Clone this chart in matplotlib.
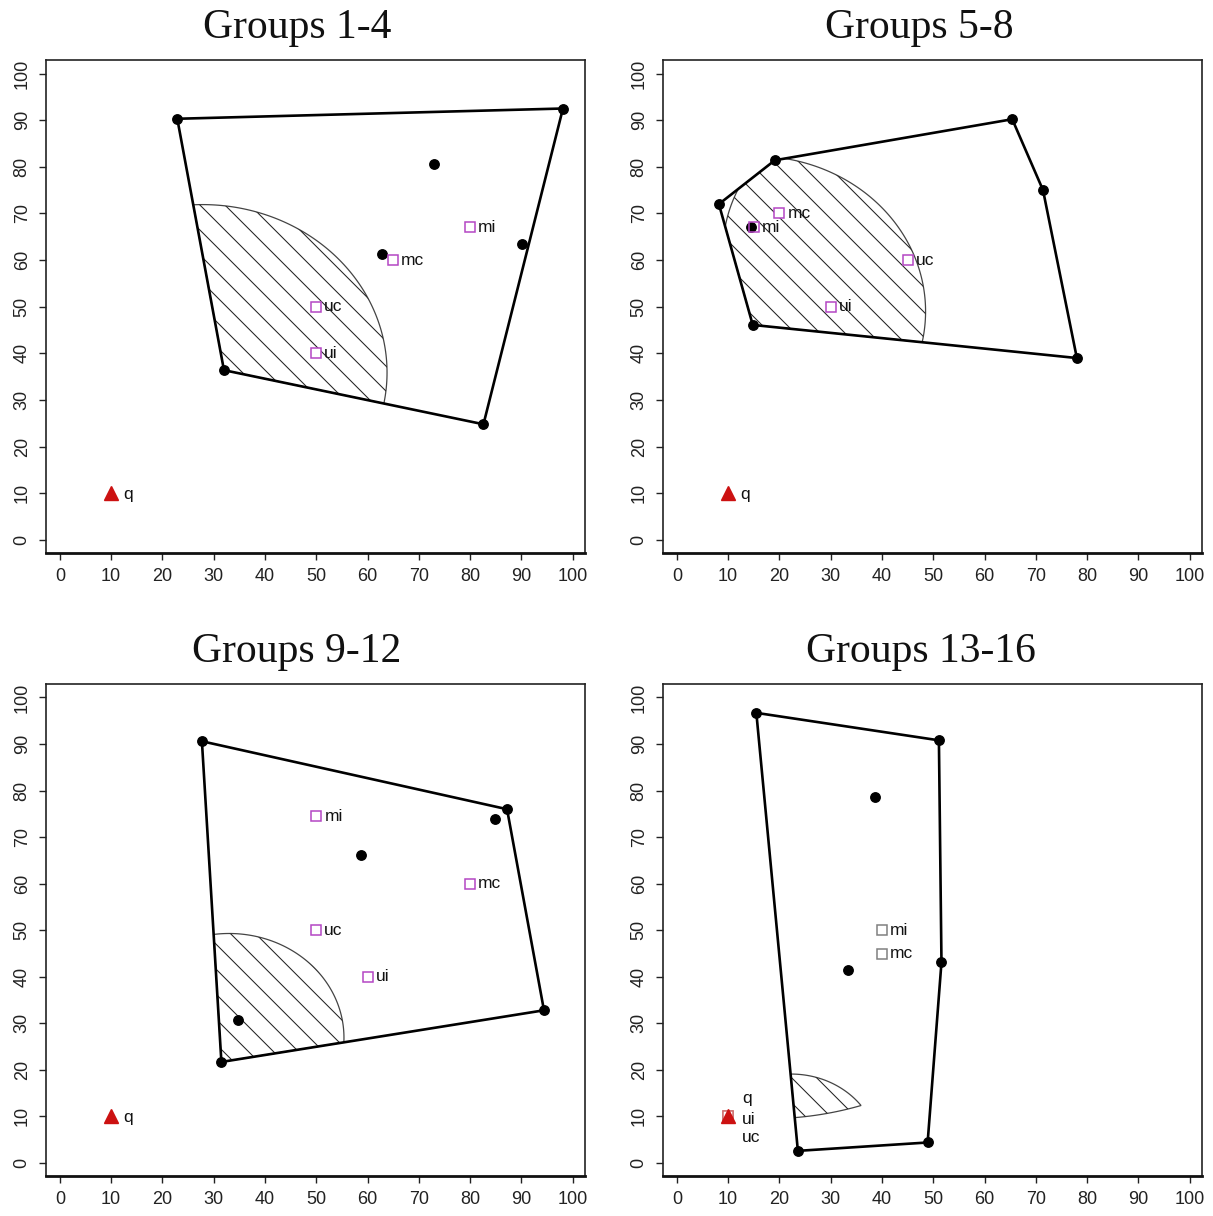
import numpy as np
import matplotlib
matplotlib.use("Agg")
import matplotlib.pyplot as plt
from matplotlib.collections import LineCollection
from matplotlib.patches import Polygon as MplPolygon

# ---------------- data ----------------
titles = ["Groups 1-4", "Groups 5-8", "Groups 9-12", "Groups 13-16"]
ticks = list(range(0, 101, 10))

q_x = [10, 10, 10, 10]
q_y = [10, 10, 10, 10]

hull1_x = [22.9, 98.1, 82.6, 32.0]
hull1_y = [90.3, 92.5, 24.8, 36.4]
inner1_x = [72.9, 62.9, 90.1]
inner1_y = [80.7, 61.2, 63.4]
sq1_lab = ["mi", "mc", "uc", "ui"]
sq1_x = [80, 65, 50, 50]
sq1_y = [67, 60, 50, 40]

hull2_x = [8.2, 19.1, 65.4, 71.4, 78.0, 14.8]
hull2_y = [72.0, 81.4, 90.2, 75.0, 39.0, 46.1]
inner2_x = [14.5]
inner2_y = [67.0]
sq2_lab = ["mc", "mi", "uc", "ui"]
sq2_x = [20, 15, 45, 30]
sq2_y = [70, 67, 60, 50]

hull3_x = [27.7, 87.2, 94.4, 31.5]
hull3_y = [90.6, 76.0, 32.8, 21.7]
inner3_x = [84.8, 58.8, 34.7]
inner3_y = [73.8, 66.1, 30.7]
sq3_lab = ["mi", "mc", "uc", "ui"]
sq3_x = [50, 80, 50, 60]
sq3_y = [74.5, 60, 50, 40]

hull4_x = [15.5, 51.1, 51.6, 48.9, 23.6]
hull4_y = [96.7, 90.8, 43.1, 4.4, 2.6]
inner4_x = [38.6, 33.3]
inner4_y = [78.6, 41.5]
sq4_lab = ["mi", "mc", "ui", "uc"]
sq4_x = [40, 40, 10, 10]
sq4_y = [50, 45, 10, 10]

# hatched region: disc (cx, cy, r) intersected with hull and optional 2nd disc
disc1 = [(27.8, 35.9, 36.0), (15.2, 49.0, 33.3), (33.0, 26.9, 22.4), (22.3, 2.0, 17.1)]
disc2 = [None, (40.0, 62.0, 31.0), None, (17.6, 69.9, 60.4)]

hulls = [(hull1_x, hull1_y), (hull2_x, hull2_y), (hull3_x, hull3_y), (hull4_x, hull4_y)]
inners = [(inner1_x, inner1_y), (inner2_x, inner2_y), (inner3_x, inner3_y), (inner4_x, inner4_y)]
squares = [(sq1_lab, sq1_x, sq1_y), (sq2_lab, sq2_x, sq2_y),
           (sq3_lab, sq3_x, sq3_y), (sq4_lab, sq4_x, sq4_y)]

# ---------------- style ----------------
W, H = 1213, 1216
fig = plt.figure(figsize=(W / 100, H / 100), dpi=100)
rects_px = [(46, 60, 539, 493), (663, 60, 539, 493),
            (46, 684, 539, 492), (663, 684, 539, 492)]
title_pos = [(297, 38), (919, 38), (297, 662), (921, 662)]
XLIM = (-2.7, 102.4)
YLIM = (-2.8, 102.9)
MAGENTA = "#B446C4"
GRAY = "#808080"
RED = "#CC1111"
label_font = "Liberation Sans"


def orient_ccw(pts):
    pts = list(pts)
    a = 0
    for i in range(len(pts)):
        x1, y1 = pts[i]
        x2, y2 = pts[(i + 1) % len(pts)]
        a += x1 * y2 - x2 * y1
    return pts if a > 0 else pts[::-1]


def clip_poly(subject, clipper):
    clipper = orient_ccw(clipper)
    out = list(subject)
    n = len(clipper)
    for i in range(n):
        a = clipper[i]
        b = clipper[(i + 1) % n]
        inp = out
        out = []
        if not inp:
            break

        def inside(p):
            return (b[0] - a[0]) * (p[1] - a[1]) - (b[1] - a[1]) * (p[0] - a[0]) >= 0

        def inter(p, q):
            dx1, dy1 = q[0] - p[0], q[1] - p[1]
            dx2, dy2 = b[0] - a[0], b[1] - a[1]
            den = dx1 * dy2 - dy1 * dx2
            t = ((a[0] - p[0]) * dy2 - (a[1] - p[1]) * dx2) / den
            return (p[0] + t * dx1, p[1] + t * dy1)

        s = inp[-1]
        for e in inp:
            if inside(e):
                if not inside(s):
                    out.append(inter(s, e))
                out.append(e)
            elif inside(s):
                out.append(inter(s, e))
            s = e
    return out


def disc_poly(c, n=360):
    t = np.linspace(0, 2 * np.pi, n, endpoint=False)
    return [(c[0] + c[2] * np.cos(a), c[1] + c[2] * np.sin(a)) for a in t]


for k in range(4):
    l, t, w, h = rects_px[k]
    ax = fig.add_axes([l / W, (H - t - h) / H, w / W, h / H])
    ax.set_xlim(*XLIM)
    ax.set_ylim(*YLIM)
    sx = w / (XLIM[1] - XLIM[0])
    sy = h / (YLIM[1] - YLIM[0])

    hx, hy = hulls[k]
    hull_pts = list(zip(hx, hy))

    # hatched region
    region = clip_poly(disc_poly(disc1[k]), hull_pts)
    if disc2[k] is not None:
        region = clip_poly(region, disc_poly(disc2[k]))
    patch = MplPolygon(region, closed=True, facecolor="none",
                       edgecolor="#444444", linewidth=0.9, zorder=2)
    ax.add_patch(patch)
    step = 25.0
    cs = np.arange(-200, sx * 110 + sy * 110 + 200, step)
    segs = []
    for c in cs:
        xa, xb = -10, 115
        segs.append([(xa, (c - sx * xa) / sy), (xb, (c - sx * xb) / sy)])
    lc = LineCollection(segs, colors="#222222", linewidths=0.75, zorder=2)
    ax.add_collection(lc)
    lc.set_clip_path(patch)

    # hull
    ax.plot(list(hx) + [hx[0]], list(hy) + [hy[0]], color="black", lw=1.9,
            solid_joinstyle="round", zorder=3)
    ix, iy = inners[k]
    ax.plot(hx, hy, "o", color="black", ms=6.8, zorder=4)
    ax.plot(ix, iy, "o", color="black", ms=6.8, zorder=4)

    # squares and labels
    labs, sxs, sys_ = squares[k]
    for lab, x, y in zip(labs, sxs, sys_):
        if k == 3:
            col = GRAY if lab in ("mi", "mc") else "#D07070"
        else:
            col = MAGENTA
        ax.plot([x], [y], "s", ms=7.6, mfc="white" if k != 1 or lab != "mi" else "none",
                mec=col, mew=1.1, zorder=5)
        if k == 3 and lab in ("ui", "uc"):
            off = (10, -2) if lab == "ui" else (10, -15)
        else:
            off = (5.8, 0)
        ax.annotate(lab, (x, y), xytext=off, textcoords="offset points",
                    ha="left", va="center", fontsize=12.5, family=label_font,
                    color="#111111", zorder=6)

    # q
    ax.plot([q_x[k]], [q_y[k]], "^", ms=10, color=RED, zorder=7)
    qoff = (10, 13) if k == 3 else (8.5, -1)
    ax.annotate("q", (q_x[k], q_y[k]), xytext=qoff, textcoords="offset points",
                ha="left", va="center", fontsize=12.5, family=label_font,
                color="#111111", zorder=6)

    # axes styling
    ax.set_xticks(ticks)
    ax.set_yticks(ticks)
    ax.set_xticklabels([str(v) for v in ticks], family=label_font, fontsize=13)
    ax.set_yticklabels([str(v) for v in ticks], family=label_font, fontsize=13,
                       rotation=90, va="center")
    ax.tick_params(direction="out", length=5, width=1.0, pad=6, colors="#222222")
    for side in ("left", "top", "right"):
        ax.spines[side].set_linewidth(1.2)
        ax.spines[side].set_color("#222222")
    ax.spines["bottom"].set_linewidth(2.0)
    ax.spines["bottom"].set_color("#111111")

    tx, ty = title_pos[k]
    fig.text(tx / W, (H - ty) / H, titles[k], ha="center", va="baseline",
             fontsize=30, family="Liberation Serif", color="#111111")

fig.savefig("out.png", dpi=100, facecolor="white")
